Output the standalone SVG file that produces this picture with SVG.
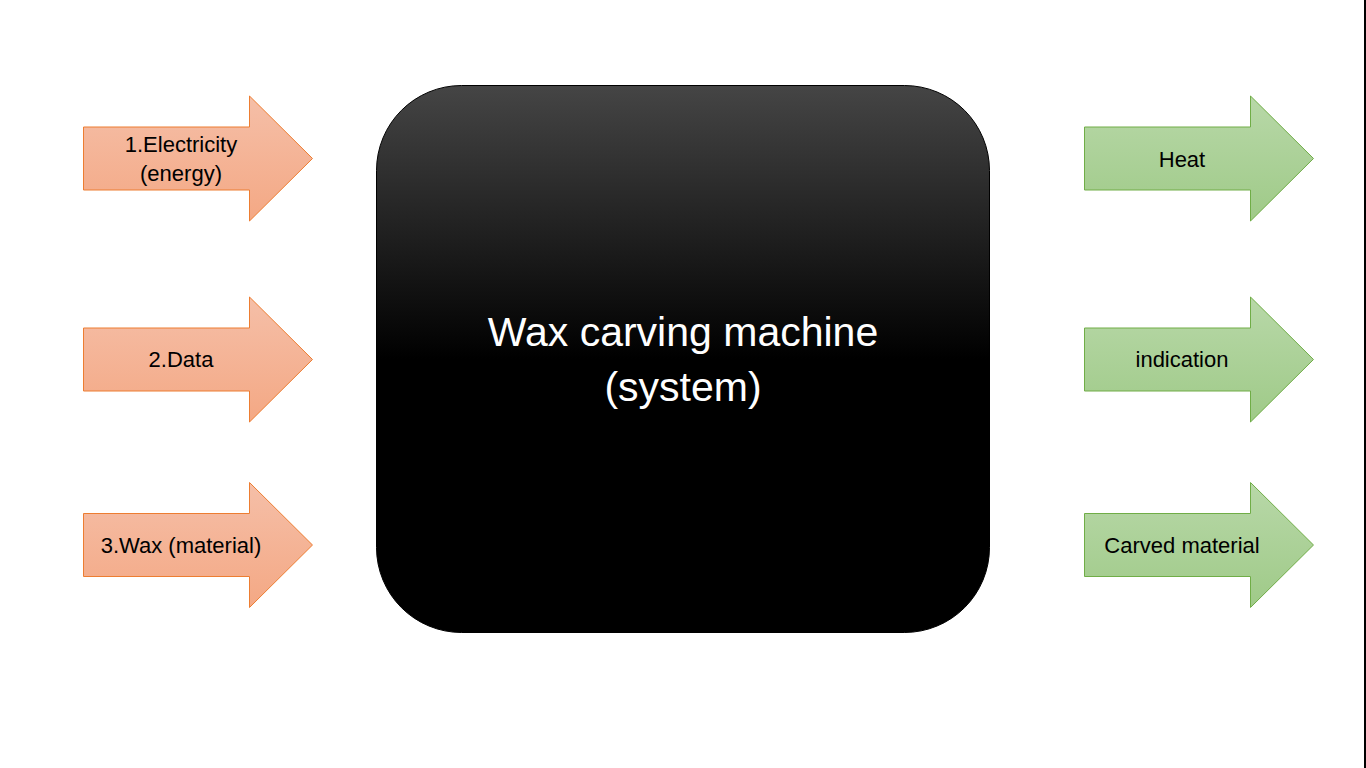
<svg xmlns="http://www.w3.org/2000/svg" width="1366" height="768" viewBox="0 0 1366 768">
<defs>
<linearGradient id="gBox" x1="0" y1="0" x2="0" y2="1">
<stop offset="0" stop-color="#454545"/>
<stop offset="0.5" stop-color="#000000"/>
<stop offset="1" stop-color="#000000"/>
</linearGradient>
<linearGradient id="gIn" x1="0" y1="0" x2="0" y2="1">
<stop offset="0" stop-color="#f5bfa8"/>
<stop offset="1" stop-color="#f4a884"/>
</linearGradient>
<linearGradient id="gOut" x1="0" y1="0" x2="0" y2="1">
<stop offset="0" stop-color="#b8d8a8"/>
<stop offset="1" stop-color="#9fca88"/>
</linearGradient>
<path id="arrow" d="M0,31 L166,31 L166,0 L229,62.5 L166,125 L166,94 L0,94 Z"/>
</defs>
<style>
.in{fill:url(#gIn);stroke:#ed7d31;stroke-width:1}
.out{fill:url(#gOut);stroke:#70ad47;stroke-width:1}
.lbl{font-family:"Liberation Sans",Arial,sans-serif;font-size:22px;fill:#000;text-anchor:middle}
.main{font-family:"Liberation Sans",Arial,sans-serif;font-size:41px;fill:#fff;text-anchor:middle}
</style>
<rect x="0" y="0" width="1366" height="768" fill="#fff"/>
<rect x="1364" y="0" width="2" height="768" fill="#000"/>
<g id="system">
<rect x="376.5" y="85.5" width="613" height="547" rx="85" ry="85" fill="url(#gBox)" stroke="#000" stroke-width="1"/>
<text class="main" x="683" y="346">Wax carving machine</text>
<text class="main" x="683" y="401">(system)</text>
</g>
<g id="connectors">
<g id="in1"><use href="#arrow" class="in" transform="translate(83.5,96)"/><text class="lbl" x="181" y="152">1.Electricity</text><text class="lbl" x="181" y="181">(energy)</text></g>
<g id="in2"><use href="#arrow" class="in" transform="translate(83.5,297)"/><text class="lbl" x="181" y="367">2.Data</text></g>
<g id="in3"><use href="#arrow" class="in" transform="translate(83.5,482.5)"/><text class="lbl" x="181" y="552.5">3.Wax (material)</text></g>
<g id="out1"><use href="#arrow" class="out" transform="translate(1084.5,96)"/><text class="lbl" x="1182" y="166.5">Heat</text></g>
<g id="out2"><use href="#arrow" class="out" transform="translate(1084.5,297)"/><text class="lbl" x="1182" y="367">indication</text></g>
<g id="out3"><use href="#arrow" class="out" transform="translate(1084.5,482.5)"/><text class="lbl" x="1182" y="552.5">Carved material</text></g>
</g>
</svg>
